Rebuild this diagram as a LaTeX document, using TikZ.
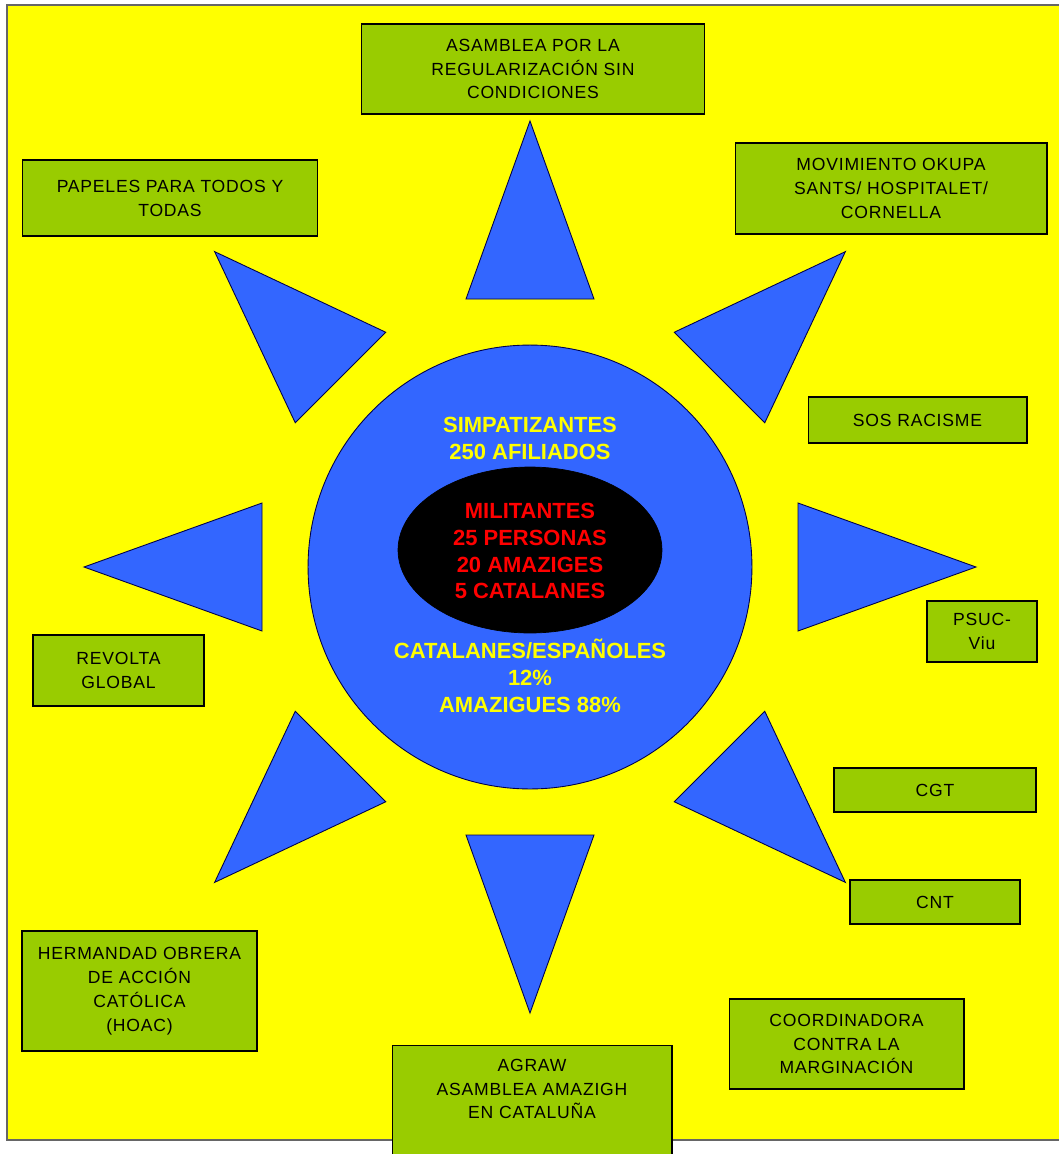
\documentclass[tikz,border=0pt]{standalone}
\usepackage{fontspec}
\setmainfont{Liberation Sans}
\newfontfamily\cajafont[LetterSpace=4.5]{Liberation Sans}
\usetikzlibrary{shapes.geometric}

\definecolor{amarillo}{HTML}{FFFF00}
\definecolor{verde}{HTML}{99CC00}
\definecolor{azul}{HTML}{3366FF}
\definecolor{rojo}{HTML}{FF0000}

\tikzset{
  caja/.style={draw=black, fill=verde, line width=0.6pt, align=center,
               font=\cajafont\fontsize{10}{13.6}\selectfont},
  punta/.style={draw=black!70!blue, fill=azul, line width=0.5pt, line join=miter},
  centro/.style={align=center, font=\bfseries\fontsize{12.5}{15.3}\selectfont}
}

\begin{document}
\begin{tikzpicture}[x=0.02cm, y=-0.02cm]
    \useasboundingbox (0,0) rectangle (1059,1154);
    % fondo
    \draw[draw=black!60, fill=amarillo, line width=0.6pt] (7,5) rectangle (1070,1140);

    % sol
    \foreach \a in {0,45,...,315}{
      \begin{scope}[shift={(530,567)}, rotate=\a]
        \draw[punta] (268,64) -- (446,0) -- (268,-64) -- cycle;
      \end{scope}
    }
    \node[circle, draw=black!70!blue, fill=azul, minimum size=8.88cm, line width=0.5pt] (simp) at (530,567) {};
    \node[ellipse, draw=black, fill=black, minimum width=5.28cm, minimum height=3.32cm] (mili) at (530,550) {};
    \node[centro, text=amarillo] (simptxt) at (530,438) {SIMPATIZANTES\\250 AFILIADOS};
    \node[centro, text=rojo]     (militxt) at (530,551) {MILITANTES\\25 PERSONAS\\20 AMAZIGES\\5 CATALANES};
    \node[centro, text=amarillo] (origen)  at (530,676) {CATALANES/ESPAÑOLES\\12\%\\AMAZIGUES 88\%};

    % organizaciones
    \node[caja, minimum width=6.88cm, minimum height=1.8cm]  (asamblea) at (533,69)    {ASAMBLEA POR LA\\REGULARIZACIÓN SIN\\CONDICIONES};
    \node[caja, minimum width=5.92cm, minimum height=1.52cm] (papeles)  at (170,198)   {PAPELES PARA TODOS Y\\TODAS};
    \node[caja, minimum width=6.24cm, minimum height=1.82cm] (okupa)    at (891,188.5) {MOVIMIENTO OKUPA\\SANTS/ HOSPITALET/\\CORNELLA};
    \node[caja, minimum width=4.38cm, minimum height=0.92cm] (sos)      at (917.5,420) {SOS RACISME};
    \node[caja, minimum width=2.2cm,  minimum height=1.22cm] (psuc)     at (982,631.5) {PSUC-\\Viu};
    \node[caja, minimum width=3.42cm, minimum height=1.42cm] (revolta)  at (118.5,670.5) {REVOLTA\\GLOBAL};
    \node[caja, minimum width=4.04cm, minimum height=0.88cm] (cgt)      at (935,790)   {CGT};
    \node[caja, minimum width=3.4cm,  minimum height=0.88cm] (cnt)      at (935,902)   {CNT};
    \node[caja, minimum width=4.7cm,  minimum height=2.4cm]  (hoac)     at (139.5,991) {HERMANDAD OBRERA\\DE ACCIÓN\\CATÓLICA\\(HOAC)};
    \node[caja, minimum width=4.7cm,  minimum height=1.8cm]  (coord)    at (846.5,1044) {COORDINADORA\\CONTRA LA\\MARGINACIÓN};
    \node[caja, minimum width=5.6cm,  minimum height=2.4cm, anchor=north] (agraw) at (532,1045) {};
    \node[align=center, font=\cajafont\fontsize{10}{13.6}\selectfont] (agrawtxt) at (532,1089) {AGRAW\\ASAMBLEA AMAZIGH\\EN CATALUÑA};
\end{tikzpicture}
\end{document}
